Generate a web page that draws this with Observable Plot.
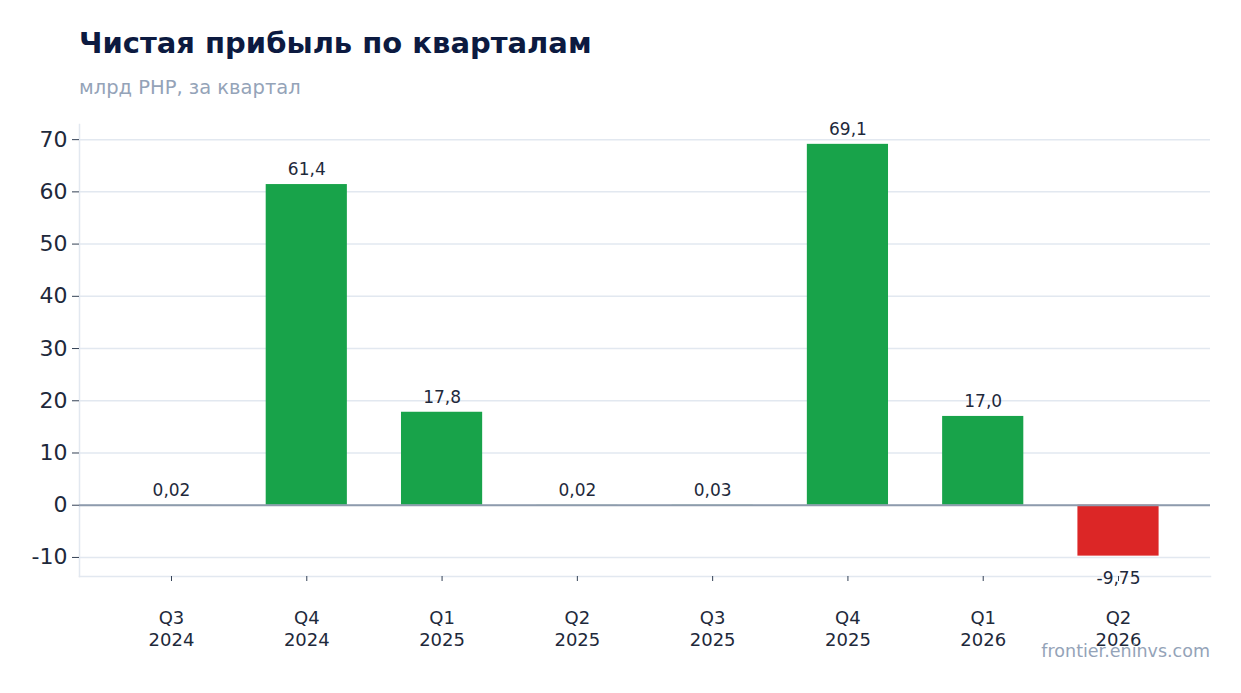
<!DOCTYPE html>
<html>
<head>
<meta charset="utf-8">
<script src="https://cdn.jsdelivr.net/npm/d3@7"></script>
<script src="https://cdn.jsdelivr.net/npm/@observablehq/plot@0.6"></script>
<style>
  html, body { margin: 0; padding: 0; background: #fff; }
  body { width: 1241px; height: 693px; position: relative; font-family: "DejaVu Sans", sans-serif; overflow: hidden; }
  #title { position: absolute; left: 79px; top: 26px; font-size: 29px; font-weight: bold; color: #0c1a40; }
  #subtitle { position: absolute; left: 79px; top: 76px; font-size: 19.5px; color: #94a3b8; }
  #chart { position: absolute; left: 0; top: 110px; }
  #footer { position: absolute; right: 31px; top: 641px; font-size: 17.5px; color: #94a3b8; }
</style>
</head>
<body>
<div id="title">Чистая прибыль по кварталам</div>
<div id="subtitle">млрд РНР, за квартал</div>
<div id="chart"></div>
<div id="footer">frontier.eninvs.com</div>
<script>
const quarters = ["Q3\n2024", "Q4\n2024", "Q1\n2025", "Q2\n2025", "Q3\n2025", "Q4\n2025", "Q1\n2026", "Q2\n2026"];
const profit = [0.02, 61.4, 17.8, 0.02, 0.03, 69.1, 17.0, -9.75];
const yTicks = [-10, 0, 10, 20, 30, 40, 50, 60, 70];

const data = quarters.map((q, i) => ({q, v: profit[i]}));
const fmt = v => {
  const d = Math.round(Math.abs(v) * 100) % 10 !== 0 ? 2 : 1;
  return v.toFixed(d).replace(".", ",");
};

const chart = Plot.plot({
  width: 1241,
  height: 583,
  marginLeft: 79,
  marginRight: 31,
  marginTop: 14,
  marginBottom: 117,
  style: {fontFamily: "DejaVu Sans", color: "#1e293b", background: "white", overflow: "visible"},
  x: {domain: quarters, paddingInner: 0.4, paddingOuter: 0.38, round: false, label: null},
  y: {domain: [-13.65, 72.9], label: null},
  marks: [
    Plot.gridY(yTicks, {stroke: "#e2e8f0", strokeOpacity: 1, strokeWidth: 1.5}),
    Plot.frame({anchor: "left", stroke: "#e2e8f0", strokeWidth: 1.5}),
    Plot.frame({anchor: "bottom", stroke: "#e2e8f0", strokeWidth: 1.5}),
    Plot.barY(data, {x: "q", y: "v", fill: d => d.v < 0 ? "#dc2626" : "#18a34a"}),
    Plot.ruleY([0], {stroke: "#8e9bad", strokeWidth: 2}),
    Plot.text(data.filter(d => d.v >= 0), {x: "q", y: "v", text: d => fmt(d.v), dy: -15, fontSize: 17, fill: "#1e293b"}),
    Plot.text(data.filter(d => d.v < 0), {x: "q", y: "v", text: d => fmt(d.v), dy: 22, fontSize: 17, fill: "#1e293b"}),
    Plot.axisY(yTicks, {fontSize: 22, tickSize: 7, tickPadding: 5, stroke: "#334155", fill: "#1e293b", label: null, tickFormat: d => String(d)}),
    Plot.axisX({fontSize: 18, tickSize: 5, tickPadding: 27, lineHeight: 1.22, stroke: "#334155", fill: "#1e293b", label: null})
  ]
});
document.getElementById("chart").appendChild(chart);
</script>
</body>
</html>
